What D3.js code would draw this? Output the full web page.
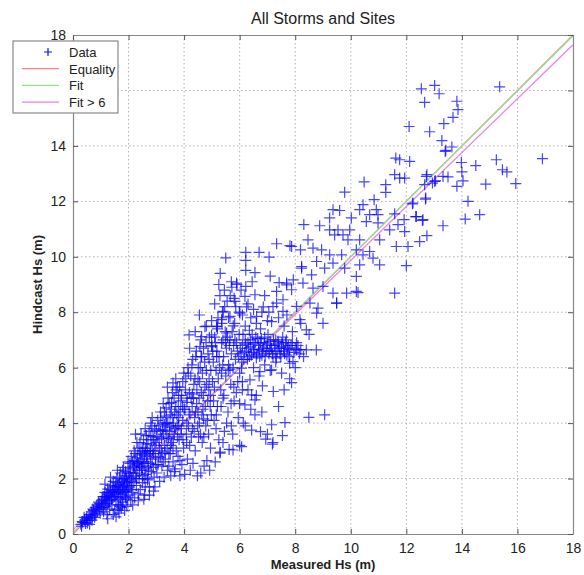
<!DOCTYPE html>
<html>
<head>
<meta charset="utf-8">
<script src="https://cdn.jsdelivr.net/npm/d3@7"></script>
<style>
  body { margin: 0; background: #fff; }
  svg { font-family: "Liberation Sans", Arial, sans-serif; }
  .grid line { stroke: #b0b0b0; stroke-dasharray: 1.5,2.5; }
</style>
</head>
<body>
<div id="chart"></div>
<script>
// Measured vs hindcast Hs, [measured, hindcast] in metres
var dataLow = [
  [0.28,0.35],[0.35,0.42],[0.31,0.28],[0.42,0.5],[0.45,0.38],[0.5,0.62],[0.55,0.48],[0.58,0.7],[0.62,0.55],[0.66,0.8],
  [0.7,0.62],[0.72,0.9],[0.76,0.72],[0.8,0.95],[0.82,0.68],[0.86,1.05],[0.88,0.82],[0.92,1.15],[0.95,0.9],[0.98,0.75],
  [0.6,0.35],[0.4,0.6],
  [1.02,1.2],[1.05,0.95],[1.08,1.35],[1.1,0.8],[1.12,1.1],[1.15,1.5],[1.18,1.0],[1.2,1.3],[1.22,0.7],[1.25,1.62],
  [1.28,1.15],[1.3,1.4],[1.32,0.9],[1.35,1.75],[1.38,1.25],[1.4,1.05],[1.42,1.55],[1.45,1.9],[1.48,1.35],[1.5,0.85],
  [1.52,1.7],[1.55,1.2],[1.55,0.62],[1.58,2.0],[1.6,1.45],[1.62,1.05],[1.65,1.8],[1.66,0.75],[1.68,1.6],[1.7,2.2],
  [1.72,1.3],[1.74,0.95],[1.76,1.95],[1.78,1.5],[1.8,1.15],[1.82,2.4],[1.84,1.7],[1.86,0.85],[1.88,1.35],[1.9,2.1],
  [1.92,1.55],[1.94,1.0],[1.96,1.85],[1.98,2.6],[2.0,1.4],[1.15,1.8],[1.35,2.05],[1.6,2.3],[1.25,0.55],[1.45,0.7],
  [1.7,1.0],[1.85,2.0],[1.5,1.55],[1.65,1.25],[1.95,1.25],
  [2.02,1.7],[2.05,2.2],[2.08,1.2],[2.1,2.8],[2.12,1.9],[2.15,1.5],[2.18,2.45],[2.2,3.0],[2.22,1.3],[2.25,2.1],
  [2.28,1.75],[2.3,3.3],[2.32,2.6],[2.35,1.45],[2.38,2.0],[2.4,2.9],[2.42,1.6],[2.45,3.6],[2.48,2.3],[2.5,1.85],
  [2.52,3.1],[2.55,2.55],[2.58,1.4],[2.6,3.8],[2.62,2.15],[2.65,2.8],[2.68,1.95],[2.7,3.4],[2.72,2.45],[2.75,1.7],
  [2.78,3.0],[2.8,4.0],[2.82,2.25],[2.85,2.7],[2.88,3.5],[2.9,1.55],[2.92,2.05],[2.95,3.2],[2.98,2.5],[3.0,3.75],
  [2.15,1.05],[2.35,1.2],[2.55,1.25],[2.75,1.4],[2.95,1.7],[2.25,3.6],[2.45,2.7],[2.65,3.25],[2.85,4.2],[2.05,2.55],
  [2.5,2.1],[2.7,2.0],[2.9,2.9],[2.4,2.45],[2.6,1.7],[2.8,3.55],[2.3,2.3],[2.1,1.6],[2.2,2.65],[2.6,2.95],
  [3.02,2.2],[3.05,4.1],[3.08,2.8],[3.1,3.4],[3.12,1.9],[3.15,4.4],[3.18,3.0],[3.2,2.45],[3.22,3.75],[3.25,4.7],
  [3.28,2.05],[3.3,3.2],[3.32,2.7],[3.35,4.0],[3.38,3.5],[3.4,2.3],[3.42,4.9],[3.45,2.9],[3.48,3.7],[3.5,4.3],
  [3.52,2.1],[3.55,3.3],[3.58,5.1],[3.6,2.6],[3.62,4.0],[3.65,3.6],[3.68,2.35],[3.7,4.6],[3.72,3.0],[3.75,5.3],
  [3.78,2.8],[3.8,4.2],[3.82,3.4],[3.85,2.1],[3.88,4.8],[3.9,3.8],[3.92,2.5],[3.95,5.5],[3.98,3.1],[4.0,4.5],
  [3.15,3.7],[3.35,4.55],[3.55,4.75],[3.75,3.9],[3.95,4.1],[3.25,2.6],[3.45,2.45],[3.65,2.25],[3.85,2.65],[3.3,3.95],
  [3.6,3.1],[3.8,5.0],[3.4,5.3],[3.7,5.6],[3.5,2.9]
];

// second pass over the dense lower band
var dataLowDense = [
  [0.33,0.45],[0.48,0.55],[0.52,0.4],[0.65,0.68],[0.74,0.85],[0.78,0.6],[0.85,0.9],[0.9,1.0],[0.68,0.5],[0.96,1.1],
  [1.03,1.05],[1.07,1.25],[1.11,0.95],[1.14,1.35],[1.17,1.2],[1.21,1.45],[1.24,1.1],[1.27,1.5],[1.31,1.2],[1.34,1.6],
  [1.37,1.4],[1.41,1.3],[1.44,1.7],[1.47,1.5],[1.51,1.35],[1.54,1.85],[1.57,1.6],[1.61,1.75],[1.64,1.5],[1.67,2.05],
  [1.71,1.7],[1.73,1.45],[1.77,1.8],[1.79,2.3],[1.81,1.6],[1.83,1.9],[1.87,1.55],[1.89,2.25],[1.91,1.75],[1.93,2.0],
  [1.97,1.65],[1.99,2.2],[1.62,0.9],[1.78,1.05],[1.9,1.3],
  [2.03,1.95],[2.06,2.35],[2.09,1.75],[2.11,2.05],[2.14,2.6],[2.17,2.2],[2.19,1.85],[2.21,2.4],[2.24,2.9],[2.27,2.5],
  [2.29,2.0],[2.31,2.75],[2.34,3.1],[2.37,2.55],[2.39,2.2],[2.41,3.3],[2.44,2.85],[2.47,2.4],[2.49,3.0],[2.51,2.6],
  [2.54,3.4],[2.57,2.85],[2.59,2.35],[2.61,3.1],[2.64,3.55],[2.67,2.6],[2.69,3.0],[2.71,2.3],[2.74,3.7],[2.77,2.9],
  [2.79,2.55],[2.81,3.25],[2.84,3.9],[2.87,3.0],[2.89,2.4],[2.91,3.4],[2.94,3.8],[2.97,2.75],[2.99,3.3],[2.56,2.0],
  [3.03,3.5],[3.06,2.5],[3.09,3.9],[3.11,3.1],[3.14,2.75],[3.16,4.2],[3.19,3.45],[3.21,2.9],[3.24,4.0],[3.26,3.6],
  [3.29,4.4],[3.31,2.95],[3.34,3.75],[3.36,4.25],[3.39,3.1],[3.41,4.0],[3.44,3.45],[3.46,4.7],[3.49,3.9],[3.51,3.2],
  [3.54,4.5],[3.56,3.85],[3.59,4.2],[3.61,3.4],[3.64,4.9],[3.66,4.4],[3.69,3.8],[3.71,5.2],[3.74,4.3],[3.76,3.5],
  [3.79,4.6],[3.81,3.9],[3.84,5.3],[3.86,4.4],[3.89,3.6],[3.91,5.0],[3.94,4.6],[3.96,3.4],[3.99,5.8],[3.6,5.45]
];

var dataMid = [
  [4.02,2.15],[4.05,5.2],[4.08,3.6],[4.1,4.0],[4.12,2.7],[4.15,5.8],[4.18,4.4],[4.2,3.2],[4.22,2.3],[4.25,4.9],
  [4.28,6.1],[4.3,3.8],[4.32,2.55],[4.35,5.4],[4.38,4.2],[4.4,3.0],[4.42,6.4],[4.45,4.7],[4.48,2.1],[4.5,5.6],
  [4.52,3.5],[4.55,4.0],[4.58,6.0],[4.6,2.2],[4.62,5.1],[4.65,3.3],[4.68,4.5],[4.7,6.7],[4.72,2.45],[4.75,5.3],
  [4.78,3.9],[4.8,5.9],[4.82,2.65],[4.85,4.8],[4.88,3.6],[4.9,6.3],[4.92,2.3],[4.95,5.0],[4.98,4.3],[5.0,6.8],
  [4.1,4.75],[4.3,5.05],[4.5,4.4],[4.7,4.15],[4.9,5.6],[4.2,6.7],[4.6,7.0],[4.4,7.3],[4.8,7.5],[4.95,3.1],
  [5.02,5.5],[5.05,6.2],[5.08,4.1],[5.1,7.1],[5.12,2.6],[5.15,5.9],[5.18,6.6],[5.2,4.6],[5.22,7.8],[5.25,3.4],
  [5.28,6.0],[5.3,2.95],[5.32,5.2],[5.35,6.9],[5.38,8.0],[5.4,4.9],[5.42,6.4],[5.45,3.7],[5.48,7.3],[5.5,5.7],
  [5.52,6.7],[5.55,8.4],[5.58,4.4],[5.6,6.1],[5.62,3.05],[5.65,7.0],[5.68,5.4],[5.7,6.5],[5.72,8.9],[5.75,3.6],
  [5.78,6.8],[5.8,4.8],[5.82,7.6],[5.85,6.3],[5.88,5.1],[5.9,9.0],[5.92,6.6],[5.95,4.2],[5.98,7.2],[6.0,5.8],
  [5.1,8.3],[5.3,9.4],[5.5,9.96],[5.7,9.1],[5.2,7.4],[5.4,7.0],[5.6,7.8],[5.8,8.5],[5.35,5.8],[5.65,5.95],
  [6.05,6.5],[6.1,6.8],[6.15,6.3],[6.2,7.0],[6.25,6.6],[6.3,6.9],[6.35,6.4],[6.4,6.75],[6.45,7.2],[6.5,6.55],
  [6.55,6.85],[6.6,6.35],[6.65,7.05],[6.7,6.65],[6.75,6.9],[6.8,6.45],[6.85,6.7],[6.9,7.1],[6.95,6.6],[7.0,6.85],
  [7.05,6.5],[7.1,6.95],[7.15,6.7],[7.2,6.4],[7.25,6.8],[7.3,7.0],[7.35,6.6],[7.4,6.85],[7.45,6.5],[7.5,6.75],
  [7.55,7.1],[7.6,6.6],[7.65,6.9],[7.7,6.45],[7.75,6.8],[7.8,6.65],[7.9,6.9],[8.0,6.7],[8.1,6.8],[8.2,6.65],
  [6.2,7.5],[6.4,7.8],[6.6,7.6],[6.8,8.0],[7.0,7.7],[7.2,8.2],[6.3,8.3],[6.9,8.6],[6.1,5.5],[6.3,5.2],
  [6.5,6.0],[6.7,5.7],[6.9,6.1],[7.1,5.9],[7.3,6.2],[6.4,4.5],[6.6,5.0],[6.0,4.7],[6.2,3.9],[6.8,4.4],
  [7.0,3.6],[7.4,4.6],[7.6,5.2],[7.8,5.6],[8.0,6.0],[8.3,6.4],[7.9,7.3],[7.6,7.5],[8.2,7.6],[8.5,7.2],
  [5.29,2.92],[5.76,3.03],[6.0,3.2],[7.2,3.3],
  [7.63,4.02],[7.15,3.94],[7.54,3.55],[6.94,3.42],[7.18,3.24],[6.75,3.69],[6.43,3.75],[6.55,4.3],[6.13,4.0],[6.07,3.15],
  [6.55,4.84],[6.19,4.66],[6.43,5.02],[7.21,5.14],[6.82,5.34],[7.87,5.46],[6.1,5.2],[6.37,5.56],[7.51,5.8],[7.15,5.92],
  [7.92,6.22],[6.07,5.98],[6.73,5.86],[8.4,6.64],[8.76,6.64],
  [6.22,10.16],[6.7,10.16],[7.06,9.99],[6.22,9.87],[7.33,10.47],[7.81,10.4],[6.22,9.51],[6.55,9.43],[5.89,9.05],[6.22,8.93],
  [7.42,9.07],[7.69,9.05],[7.33,8.75],[6.19,8.57],[6.55,8.63],[7.87,8.81],[5.83,8.39],[6.25,8.19],[6.85,8.19],[7.33,8.33],
  [5.41,8.03],[6.01,7.97],[7.56,8.03],[5.35,7.73],[5.65,7.85],[6.61,7.85],[7.15,7.66],[4.75,7.48],[5.17,7.48],[5.77,7.51],
  [4.18,7.18],[4.63,7.12],[4.99,7.18],[5.53,7.25],[4.57,6.76],[4.99,6.76],[4.63,6.4],[5.17,6.4],[7.8,6.16],[7.69,8.99]
];

// second pass over the 4-8 m band
var dataMidDense = [
  [4.03,4.5],[4.06,5.6],[4.09,3.3],[4.11,4.9],[4.14,6.0],[4.16,3.9],[4.19,5.1],[4.21,4.3],[4.24,5.7],[4.26,3.5],
  [4.29,4.6],[4.31,6.3],[4.34,4.9],[4.36,3.7],[4.39,5.6],[4.41,4.4],[4.44,6.6],[4.46,5.2],[4.49,3.9],[4.51,6.0],
  [4.54,4.9],[4.56,5.5],[4.59,3.6],[4.61,6.4],[4.64,4.3],[4.66,5.8],[4.69,5.0],[4.71,3.5],[4.74,6.2],[4.76,4.6],
  [4.79,6.9],[4.81,5.4],[4.84,4.1],[4.86,6.5],[4.89,5.2],[4.91,7.1],[4.94,4.6],[4.96,5.9],[4.99,7.7],[4.55,7.9],
  [5.03,6.6],[5.06,4.8],[5.09,5.3],[5.13,6.9],[5.16,4.3],[5.19,7.5],[5.23,5.6],[5.26,6.4],[5.29,8.6],[5.33,4.6],
  [5.36,7.6],[5.39,6.1],[5.43,5.0],[5.46,8.2],[5.49,6.9],[5.53,4.0],[5.56,7.1],[5.59,5.9],[5.63,6.8],[5.66,8.6],
  [5.69,4.7],[5.73,7.3],[5.76,6.0],[5.79,5.3],[5.83,7.0],[5.86,8.2],[5.89,6.9],[5.93,5.5],[5.96,6.4],[5.99,8.0],
  [5.25,9.0],[5.45,8.8],[5.15,3.8],[5.4,3.3],[5.7,3.9],
  [6.02,6.7],[6.08,6.2],[6.12,7.2],[6.18,6.55],[6.22,6.85],[6.28,6.3],[6.32,6.7],[6.38,7.0],[6.42,6.45],[6.48,6.9],
  [6.52,6.65],[6.58,7.1],[6.62,6.5],[6.68,6.8],[6.72,6.4],[6.78,7.05],[6.82,6.6],[6.88,6.9],[6.92,6.4],[6.98,6.7],
  [7.02,7.2],[7.08,6.6],[7.12,6.8],[7.18,6.5],[7.22,7.0],[7.28,6.6],[7.32,6.35],[7.38,6.95],[7.42,6.7],[7.48,6.4],
  [7.52,6.9],[7.58,6.7],[7.62,6.5],[7.68,7.0],[7.72,6.7],[7.78,6.4],[7.85,6.8],[7.95,6.55],[8.05,6.9],[8.15,6.5],
  [6.1,7.9],[6.5,8.1],[6.75,7.4],[7.05,8.0],[7.4,7.8],[7.7,7.9],[6.35,7.35],[6.05,8.8],[6.45,9.1],[7.1,9.3]
];

var dataHigh = [
  [8.31,11.16],[8.19,10.25],[8.23,9.59],[8.05,8.21],[8.17,7.73],[9.0,7.6],[8.77,7.97],[9.49,8.33],[10.2,8.75],[9.85,8.69],
  [8.4,7.36],[8.05,6.64],[8.49,4.21],[9.06,4.3],
  [11.62,13.56],[10.48,12.7],[11.26,12.6],[11.26,12.32],[9.78,12.33],[11.58,12.96],[11.94,12.84],[12.74,12.96],[13.02,12.72],[12.69,12.08],
  [10.84,12.06],[10.44,11.88],[10.92,11.7],[10.32,11.7],[9.36,11.7],[9.6,11.67],[10.68,11.52],[10.98,11.52],[11.58,11.55],[12.24,11.94],
  [12.36,11.45],[12.6,11.34],[9.24,11.4],[10.02,11.4],[10.56,11.27],[10.98,11.22],[8.88,11.12],[9.24,10.97],[9.54,10.97],[9.96,10.97],
  [9.42,10.79],[9.72,10.79],[9.9,10.61],[10.32,10.61],[11.04,10.61],[11.4,10.97],[11.7,11.16],[11.64,10.37],[12.06,10.37],[12.0,9.68],
  [11.58,8.69],[7.87,10.37],[8.46,10.61],[8.64,10.31],[8.95,10.25],[9.24,10.07],[9.67,10.07],[10.2,10.25],[10.44,10.07],[10.68,10.19],
  [10.8,9.95],[11.04,9.71],[8.23,9.65],[8.77,9.83],[9.06,9.59],[9.36,9.77],[9.78,9.59],[10.32,9.71],[10.2,9.29],[8.59,9.35],
  [7.93,9.17],[8.28,9.05],[8.64,8.87],[9.0,8.93],[9.36,8.69],[10.26,8.71],[9.49,8.33],[8.53,8.33],[7.56,8.45],[8.82,8.15],
  [12.54,16.06],[13.02,16.18],[13.18,15.88],[12.66,15.57],[13.82,15.61],[13.86,15.31],[13.68,15.03],[13.35,14.8],[12.84,14.51],[12.1,14.7],
  [15.36,16.13],[13.28,14.19],[13.42,13.84],[13.64,13.96],[13.98,13.4],[14.5,13.29],[15.24,13.5],[15.46,13.14],[15.62,13.06],[15.94,12.64],
  [16.9,13.54],[14.86,12.62],[14.0,13.06],[14.04,12.74],[13.82,12.54],[13.32,12.9],[13.5,12.88],[13.05,12.74],[12.94,12.66],[12.72,12.9],
  [12.66,12.6],[12.7,12.12],[12.22,11.91],[14.22,12.0],[14.64,11.52],[14.12,11.36],[13.32,11.12],[12.74,10.76],[11.92,11.34],[12.34,11.45],
  [12.58,11.31],[11.94,10.91],[12.48,10.55],[11.76,12.84],[11.76,13.5],[12.12,13.44],[13.4,13.8]
];

// Fitted lines: hindcast = slope * measured + intercept
var lineNames = ["Equality", "Fit", "Fit > 6"];
var lineSlopes = [1.0, 0.995, 0.972];
var lineIntercepts = [0.0, 0.06, 0.15];
var lineColors = ["#ff8080", "#90e090", "#ec80ec"];

var xTicks = [0, 2, 4, 6, 8, 10, 12, 14, 16, 18];
var yTicks = [0, 2, 4, 6, 8, 10, 12, 14, 16, 18];

var data = dataLow.concat(dataLowDense, dataMid, dataMidDense, dataHigh);

var margin = { top: 35, right: 11, bottom: 41, left: 73 },
    width = 584 - margin.left - margin.right,
    height = 575 - margin.top - margin.bottom;

var svg = d3.select("#chart")
    .append("svg")
    .attr("width", 584)
    .attr("height", 575);

var g = svg.append("g")
    .attr("transform", "translate(" + margin.left + "," + margin.top + ")");

var x = d3.scaleLinear().domain([0, 18]).range([0, width]);
var y = d3.scaleLinear().domain([0, 18]).range([height, 0]);

// grid
g.append("g").attr("class", "grid")
    .selectAll("line").data(xTicks.slice(1, -1)).enter().append("line")
    .attr("x1", d => x(d)).attr("x2", d => x(d))
    .attr("y1", 0).attr("y2", height);
g.append("g").attr("class", "grid")
    .selectAll("line").data(yTicks.slice(1, -1)).enter().append("line")
    .attr("y1", d => y(d)).attr("y2", d => y(d))
    .attr("x1", 0).attr("x2", width);

// fit lines
lineNames.forEach(function (name, i) {
    g.append("line")
        .attr("x1", x(0)).attr("y1", y(lineIntercepts[i]))
        .attr("x2", x(18)).attr("y2", y(lineSlopes[i] * 18 + lineIntercepts[i]))
        .attr("stroke", lineColors[i])
        .attr("stroke-width", 1.3);
});

// data points
var plus = "M-5.5,0H5.5M0,-5.5V5.5";
g.append("g").selectAll("path")
    .data(data).enter().append("path")
    .attr("d", plus)
    .attr("transform", d => "translate(" + x(d[0]) + "," + y(d[1]) + ")")
    .attr("stroke", "#0606ff")
    .attr("stroke-opacity", 0.75)
    .attr("stroke-width", 1.2)
    .attr("fill", "none");

// axes with inward ticks on all four sides
function styleAxis(sel) {
    sel.select(".domain").attr("stroke", "#888").attr("stroke-width", 1.2);
    sel.selectAll(".tick line").attr("stroke", "#555");
    sel.selectAll(".tick text").attr("fill", "#222").style("font-size", "14px");
}
g.append("g").attr("transform", "translate(0," + height + ")")
    .call(d3.axisBottom(x).tickValues(xTicks).tickSize(-5).tickPadding(9).tickSizeOuter(0))
    .call(styleAxis);
g.append("g")
    .call(d3.axisLeft(y).tickValues(yTicks).tickSize(-5).tickPadding(7).tickSizeOuter(0))
    .call(styleAxis);
g.append("g")
    .call(d3.axisTop(x).tickValues(xTicks).tickSize(-5).tickFormat("").tickSizeOuter(0))
    .call(styleAxis);
g.append("g").attr("transform", "translate(" + width + ",0)")
    .call(d3.axisRight(y).tickValues(yTicks).tickSize(-5).tickFormat("").tickSizeOuter(0))
    .call(styleAxis);

// title and labels
svg.append("text")
    .attr("x", margin.left + width / 2).attr("y", 24)
    .attr("text-anchor", "middle")
    .style("font-size", "16px").attr("fill", "#222")
    .text("All Storms and Sites");
svg.append("text")
    .attr("x", margin.left + width / 2).attr("y", 569)
    .attr("text-anchor", "middle")
    .style("font-size", "13px").style("font-weight", "bold").attr("fill", "#222")
    .text("Measured Hs (m)");
svg.append("text")
    .attr("transform", "translate(42," + (margin.top + height / 2) + ") rotate(-90)")
    .attr("text-anchor", "middle")
    .style("font-size", "13px").style("font-weight", "bold").attr("fill", "#222")
    .text("Hindcast Hs (m)");

// legend
var legend = svg.append("g").attr("transform", "translate(13,41)");
legend.append("rect")
    .attr("width", 105).attr("height", 72)
    .attr("fill", "#fff").attr("stroke", "#888").attr("stroke-width", 1.2);
var legendItems = ["Data"].concat(lineNames);
legendItems.forEach(function (name, i) {
    var ly = 11 + i * 16.7;
    if (i === 0) {
        legend.append("path").attr("d", "M-4,0H4M0,-4V4")
            .attr("transform", "translate(35," + ly + ")")
            .attr("stroke", "#1010ff").attr("stroke-width", 1.2).attr("fill", "none");
    } else {
        legend.append("line")
            .attr("x1", 9).attr("x2", 46).attr("y1", ly).attr("y2", ly)
            .attr("stroke", lineColors[i - 1]).attr("stroke-width", 1.3);
    }
    legend.append("text")
        .attr("x", 56).attr("y", ly + 5)
        .style("font-size", "13px").attr("fill", "#222")
        .text(name);
});
</script>
</body>
</html>
